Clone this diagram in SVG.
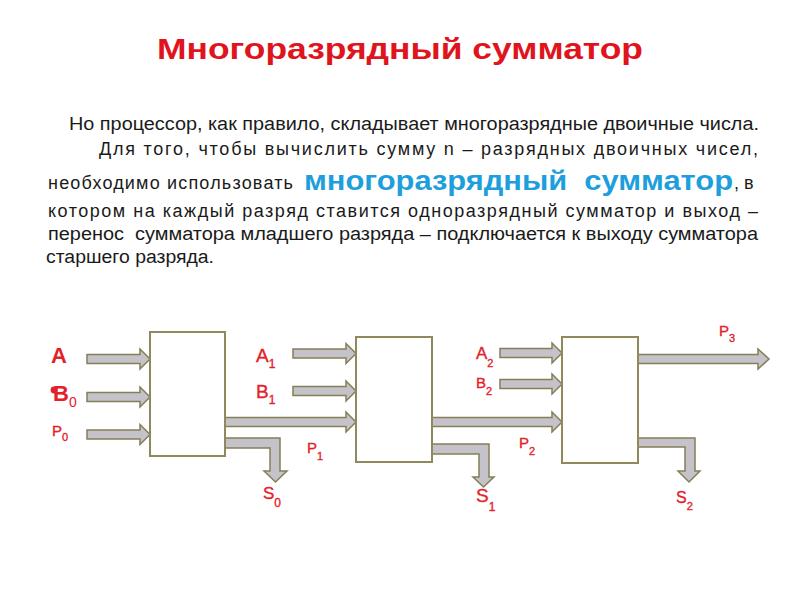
<svg xmlns="http://www.w3.org/2000/svg" width="800" height="600" viewBox="0 0 800 600">
<style>
.title{font-family:"Liberation Sans",Arial,sans-serif;font-weight:bold;font-size:30px;fill:#e0141c}
.body{font-family:"Liberation Sans",Arial,sans-serif;font-size:18px;fill:#1a1a1a;white-space:pre}
.hl{font-family:"Liberation Sans",Arial,sans-serif;font-weight:bold;font-size:27px;fill:#1e9fdc;white-space:pre}
.lbl{font-family:"Liberation Sans",Arial,sans-serif;fill:#e4202a;stroke:#e4202a;stroke-width:0.35}
.big{font-weight:bold;stroke-width:0}
.box{fill:#ffffff;stroke:#8f895d;stroke-width:2}
.arr{fill:#c6c2ca;stroke:#857f58;stroke-width:1.5;stroke-linejoin:miter}
</style>
<rect width="800" height="600" fill="#ffffff"/>
<text class="title" x="157" y="59" textLength="486" lengthAdjust="spacingAndGlyphs">Многоразрядный сумматор</text>
<g id="text">
<text class="body" x="69" y="130" textLength="690" lengthAdjust="spacingAndGlyphs">Но процессор, как правило, складывает многоразрядные двоичные числа.</text>
<text class="body" x="99" y="155" textLength="659" lengthAdjust="spacing">Для того, чтобы вычислить сумму n – разрядных двоичных чисел,</text>
<text class="body" x="48" y="189" textLength="245" lengthAdjust="spacing">необходимо использовать</text>
<text class="hl" x="304" y="190" textLength="429" lengthAdjust="spacingAndGlyphs" xml:space="preserve">многоразрядный  сумматор</text>
<text class="body" x="734" y="189">, в</text>
<text class="body" x="48" y="217" textLength="710" lengthAdjust="spacing">котором на каждый разряд ставится одноразрядный сумматор и выход –</text>
<text class="body" x="48" y="240" textLength="710" lengthAdjust="spacingAndGlyphs" xml:space="preserve">перенос  сумматора младшего разряда – подключается к выходу сумматора</text>
<text class="body" x="46" y="263" textLength="168" lengthAdjust="spacingAndGlyphs">старшего разряда.</text>
</g>
<g id="connectors">
<polygon class="arr" points="87,354.5 140,354.5 140,349 150,359 140,369 140,363.5 87,363.5"/>
<polygon class="arr" points="87,392.5 140,392.5 140,387 150,397 140,407 140,401.5 87,401.5"/>
<polygon class="arr" points="87,430 140,430 140,424.5 150,434.5 140,444.5 140,439 87,439"/>
<polygon class="arr" points="225,417.5 346,417.5 346,412 356,422 346,432 346,426.5 225,426.5"/>
<polygon class="arr" points="225,438 280,438 280,471 287,471 275.5,482 264,471 270,471 270,448 225,448"/>
<polygon class="arr" points="293,349 346,349 346,343.5 356,353.5 346,363.5 346,358 293,358"/>
<polygon class="arr" points="293,386.5 346,386.5 346,381 356,391 346,401 346,395.5 293,395.5"/>
<polygon class="arr" points="432,417.5 552,417.5 552,412 562,422 552,432 552,426.5 432,426.5"/>
<polygon class="arr" points="432,444 489,444 489,477 494,477 483.5,487 473,477 479,477 479,454 432,454"/>
<polygon class="arr" points="500,348.5 552,348.5 552,343 562,353 552,363 552,357.5 500,357.5"/>
<polygon class="arr" points="500,379.5 552,379.5 552,374 562,384 552,394 552,388.5 500,388.5"/>
<polygon class="arr" points="638,354.5 758,354.5 758,349 769,359 758,369 758,363.5 638,363.5"/>
<polygon class="arr" points="638,438 695,438 695,471 700,471 689,482 678,471 685,471 685,447 638,447"/>
</g>
<g id="adder0"><rect class="box" x="150" y="332" width="75" height="124"/></g>
<g id="adder1"><rect class="box" x="356" y="337" width="76" height="125"/></g>
<g id="adder2"><rect class="box" x="562" y="337" width="76" height="126"/></g>
<g id="labels">
<text class="lbl big" x="51" y="363" font-size="22">A</text>
<text class="lbl big" x="53" y="401" font-size="22">B<tspan font-size="14" font-weight="normal" y="407">0</tspan></text>
<circle cx="54" cy="390" r="3.4" fill="#e4202a"/>
<text class="lbl" x="52" y="436" font-size="15">P<tspan font-size="11" y="441">0</tspan></text>
<text class="lbl" x="263" y="499" font-size="17">S<tspan font-size="12" y="507">0</tspan></text>
<text class="lbl" x="256" y="362" font-size="19">A<tspan font-size="12" y="368">1</tspan></text>
<text class="lbl" x="256" y="398" font-size="19">B<tspan font-size="12" y="404">1</tspan></text>
<text class="lbl" x="307" y="453" font-size="15">P<tspan font-size="11" y="460">1</tspan></text>
<text class="lbl" x="476" y="502" font-size="19">S<tspan font-size="12" y="511">1</tspan></text>
<text class="lbl" x="476" y="359" font-size="17">A<tspan font-size="11" y="367">2</tspan></text>
<text class="lbl" x="476" y="388" font-size="15">B<tspan font-size="11" y="395">2</tspan></text>
<text class="lbl" x="519" y="448" font-size="15">P<tspan font-size="11" y="455">2</tspan></text>
<text class="lbl" x="719" y="336" font-size="15">P<tspan font-size="11" y="342">3</tspan></text>
<text class="lbl" x="676" y="503" font-size="16">S<tspan font-size="11" y="510">2</tspan></text>
</g>
</svg>
